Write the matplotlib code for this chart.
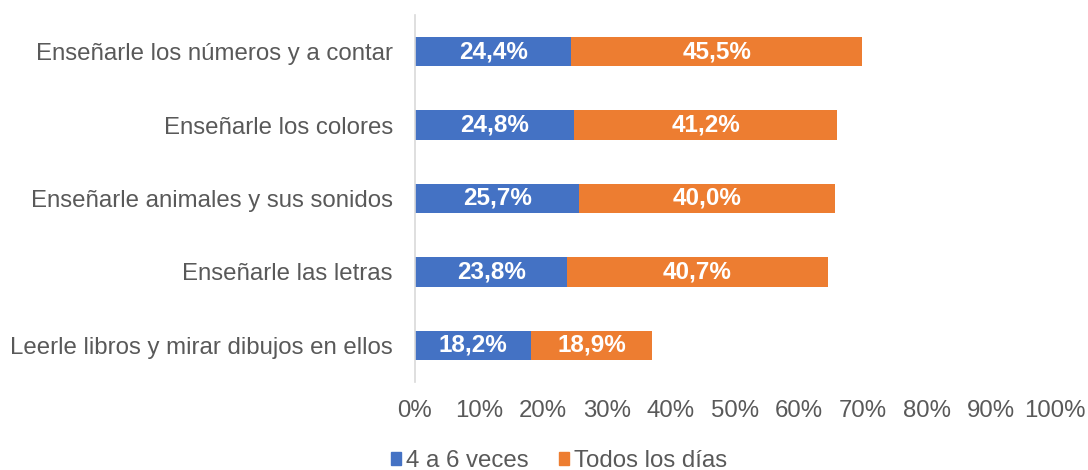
import matplotlib
matplotlib.use("Agg")
import matplotlib.pyplot as plt
from matplotlib.patches import Patch
from matplotlib.ticker import FuncFormatter

plt.rcParams['font.family'] = ['Liberation Sans', 'DejaVu Sans']

categories = [
    "Enseñarle los números y a contar",
    "Enseñarle los colores",
    "Enseñarle animales y sus sonidos",
    "Enseñarle las letras",
    "Leerle libros y mirar dibujos en ellos",
]
series_names = ["4 a 6 veces", "Todos los días"]
vals_4a6 = [24.4, 24.8, 25.7, 23.8, 18.2]
vals_todos = [45.5, 41.2, 40.0, 40.7, 18.9]
colors = ["#4472C4", "#ED7D31"]
xticks = list(range(0, 101, 10))

fig = plt.figure(figsize=(10.88, 4.70), dpi=100)
ax = fig.add_axes([415/1088, 1 - 382/470, 640/1088, 367/470])

y = list(range(len(categories)))[::-1]
h = 0.4
b1 = ax.barh(y, vals_4a6, height=h, color=colors[0], label=series_names[0])
b2 = ax.barh(y, vals_todos, left=vals_4a6, height=h, color=colors[1], label=series_names[1])

def fmt(v):
    return f"{v:.1f}%".replace(".", ",")

for vals, lefts in [(vals_4a6, [0]*5), (vals_todos, vals_4a6)]:
    for yi, v, l in zip(y, vals, lefts):
        ax.text(l + v/2, yi, fmt(v), ha='center', va='center', color='white',
                fontsize=17.5, fontweight='bold')

ax.set_xlim(0, 100)
ax.set_ylim(-0.5, 4.5)
ax.set_xticks(xticks)
ax.xaxis.set_major_formatter(FuncFormatter(lambda v, p: f"{int(v)}%"))
ax.set_yticks(y)
ax.set_yticklabels(categories)
ax.tick_params(axis='both', length=0, labelsize=17.3, colors='#595959')
ax.tick_params(axis='x', pad=13)
ax.tick_params(axis='y', pad=16)
for s in ['top', 'right', 'bottom']:
    ax.spines[s].set_visible(False)
ax.spines['left'].set_color('#D9D9D9')
ax.spines['left'].set_linewidth(1.2)

handles = [Patch(color=colors[0], label=series_names[0]),
           Patch(color=colors[1], label=series_names[1])]
fig.legend(handles=handles, loc='center', bbox_to_anchor=(559/1088, 1 - 461/470),
           ncol=2, frameon=False, fontsize=17.3, handlelength=0.42, handleheight=0.42,
           handletextpad=0.2, columnspacing=1.3, labelcolor='#595959',
           borderpad=0, borderaxespad=0)

fig.savefig("out.png", dpi=100)
